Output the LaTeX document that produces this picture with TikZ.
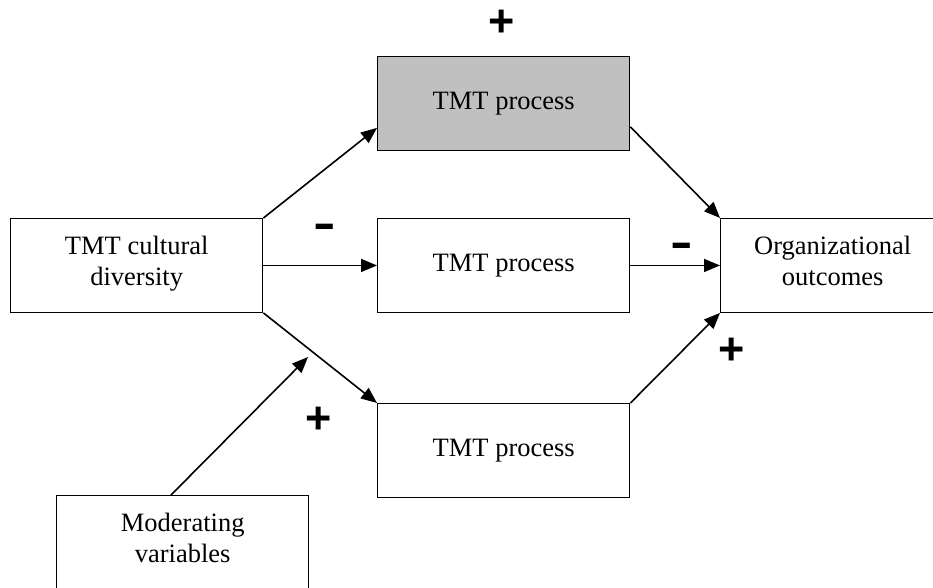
\documentclass[tikz,border=0pt]{standalone}
\usepackage{fontspec}
\usepackage{graphicx}
\setmainfont{Liberation Serif}
\newfontfamily\signfont{Liberation Sans}
\usetikzlibrary{arrows.meta,calc}
\definecolor{boxgray}{HTML}{C0C0C0}
\begin{document}
\begin{tikzpicture}[x=1pt,y=-1pt,
  box/.style={draw=black, line width=1.4pt, minimum width=252pt, minimum height=93.5pt,
    inner sep=0pt, align=center, font=\fontsize{26.5}{31}\selectfont, anchor=north west},
  link/.style={line width=1.6pt, -{Triangle[length=16pt,width=13pt]}},
  sign/.style={font=\fontsize{45}{45}\signfont\bfseries, inner sep=0pt}]
\useasboundingbox (0,0) rectangle (933,587);
\clip (0,0) rectangle (933,587);
\node[box] (cd) at (10,218) {TMT cultural\\diversity\rule[-10pt]{0pt}{10pt}};
\node[box, fill=boxgray] (tp) at (377,56) {TMT process};
\node[box] (mp) at (377,218) {TMT process};
\node[box] (bp) at (377,403) {TMT process};
\node[box, minimum width=224pt] (oo) at (720,218) {Organizational\\outcomes\rule[-10pt]{0pt}{10pt}};
\node[box] (mv) at (56,495) {Moderating\\variables\rule[-10pt]{0pt}{10pt}};
\coordinate (mt) at (308,357);
\draw[link] (cd.north east) -- ($(tp.south west)+(0,-23)$);
\draw[link] (cd.east) -- (mp.west);
\draw[link] (cd.south east) -- (bp.north west);
\draw[link] ($(tp.south east)+(0,-24)$) -- (oo.north west);
\draw[link] (mp.east) -- (oo.west);
\draw[link] (bp.north east) -- (oo.south west);
\draw[link] ($(mv.north west)+(115,0)$) -- (mt);
\node[sign] (s1) at (502,23) {+};
\node[sign] (s2) at (325,231) {\scalebox{1.5}[1]{-}};
\node[sign] (s3) at (682,250) {\scalebox{1.5}[1]{-}};
\node[sign] (s4) at (319,420) {+};
\node[sign] (s5) at (732,351) {+};
\end{tikzpicture}
\end{document}
